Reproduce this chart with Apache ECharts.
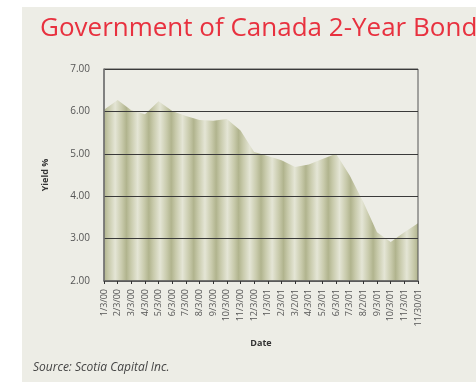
<!DOCTYPE html>
<html>
<head>
<meta charset="utf-8">
<script src="https://cdn.jsdelivr.net/npm/echarts@6/dist/echarts.min.js"></script>
<style>
html,body{margin:0;padding:0;background:#ffffff;}
#c{width:476px;height:382px;}
</style>
</head>
<body>
<div id="c"></div>
<script>
const categories = ['1/3/00','2/3/00','3/3/00','4/3/00','5/3/00','6/3/00','7/3/00','8/3/00','9/3/00','10/3/00','11/3/00','12/3/00','1/3/01','2/3/01','3/2/01','4/3/01','5/3/01','6/3/01','7/3/01','8/2/01','9/3/01','10/3/01','11/3/01','11/30/01'];
const yieldValues = [6.04, 6.27, 6.03, 5.93, 6.24, 6.01, 5.89, 5.80, 5.78, 5.82, 5.55, 5.04, 4.95, 4.85, 4.69, 4.75, 4.88, 5.00, 4.49, 3.86, 3.15, 2.92, 3.15, 3.36];
const yTicks = [2, 3, 4, 5, 6, 7];

const titleText = 'Government of Canada 2-Year Bond';
const sourceText = 'Source: Scotia Capital Inc.';

// striped fill (style only)
const periods = 14;
const stops = [];
for (let k = 0; k < periods; k++) {
  stops.push({offset: k / periods, color: '#b1b48e'});
  stops.push({offset: (k + 0.2) / periods, color: '#c8caab'});
  stops.push({offset: (k + 0.5) / periods, color: '#e4e5d5'});
  stops.push({offset: (k + 0.8) / periods, color: '#c8caab'});
}
stops.push({offset: 1, color: '#b1b48e'});

const chart = echarts.init(document.getElementById('c'), null, {renderer: 'canvas'});
const labelFont = '"Open Sans", "Noto Sans", sans-serif';
chart.setOption({
  animation: false,
  backgroundColor: '#ffffff',
  graphic: [
    {type: 'rect', shape: {x: 22, y: 7, width: 460, height: 380}, style: {fill: '#edede6'}, z: -10},
    {type: 'text', left: 40, top: 16, style: {text: titleText, fill: '#e8313f', font: '26px "Open Sans", "Noto Sans", sans-serif'}},
    {type: 'text', left: 33, top: 362, style: {text: sourceText, fill: '#444444', font: 'italic 12px "Open Sans", "Noto Sans", sans-serif'}}
  ],
  grid: {left: 104, top: 69, right: 58, bottom: 101, show: true, borderColor: '#555', borderWidth: 1, backgroundColor: 'transparent', z: 5},
  xAxis: {
    type: 'category',
    data: categories,
    boundaryGap: false,
    name: 'Date',
    nameLocation: 'middle',
    nameGap: 58,
    z: 5,
    nameTextStyle: {fontFamily: labelFont, fontWeight: 'bold', fontSize: 9, color: '#333'},
    axisLine: {lineStyle: {color: '#666', width: 1.5}},
    axisTick: {show: true, length: 3, lineStyle: {color: '#333'}, alignWithLabel: true},
    axisLabel: {rotate: 90, interval: 0, fontSize: 9, color: '#555', fontFamily: labelFont, margin: 8},
    splitLine: {show: false}
  },
  yAxis: {
    type: 'value',
    min: yTicks[0],
    max: yTicks[yTicks.length - 1],
    interval: 1,
    name: 'Yield %',
    nameLocation: 'middle',
    nameGap: 54,
    nameRotate: 90,
    z: 5,
    nameTextStyle: {fontFamily: labelFont, fontWeight: 'bold', fontSize: 9, color: '#333'},
    axisLine: {show: true, lineStyle: {color: '#777', width: 1.5}},
    axisTick: {show: false},
    axisLabel: {formatter: v => v.toFixed(2), fontSize: 10, color: '#555', fontFamily: labelFont, margin: 14},
    splitLine: {show: true, lineStyle: {color: '#3a3a3a', width: 1}}
  },
  series: [{
    type: 'line',
    data: yieldValues,
    symbol: 'none',
    lineStyle: {width: 0},
    areaStyle: {
      opacity: 1,
      color: new echarts.graphic.LinearGradient(0, 0, 1, 0, stops)
    },
    z: 1
  }]
});
</script>
</body>
</html>
